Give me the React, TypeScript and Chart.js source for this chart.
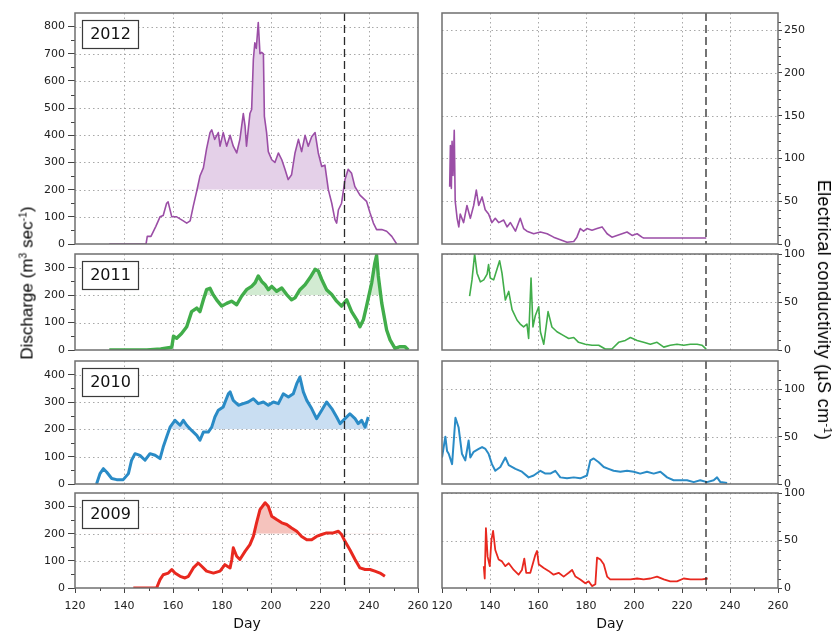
import React, { useEffect, useRef } from 'react';
import { Chart, registerables } from 'chart.js';

Chart.register(...registerables);

// ---------------- Data ----------------
// Discharge (m3 sec-1)
const q2012Days = [134, 149, 149.5, 151, 153, 154.7, 156, 157.4, 158, 159.5, 161.5, 164.2, 165.6, 167, 168.3, 169.7, 171, 172.4, 173.7, 175.1, 175.8, 177, 178.5, 179.2, 180.5, 181.9, 183.3, 184.6, 186, 187.3, 188.7, 189.4, 190, 190.7, 191.4, 192.1, 192.8, 193.4, 194, 194.8, 195.5, 196.2, 196.9, 197.3, 198.2, 198.9, 200.3, 201.6, 203, 204.4, 205.7, 207, 208.4, 209.8, 211.2, 212.5, 213.9, 215.2, 216.6, 218, 219.3, 220.7, 222, 223.4, 224.8, 226.1, 226.8, 227.5, 228.8, 230.2, 231.5, 232.9, 234.2, 236.3, 239, 240.4, 241.8, 243.1, 245.2, 247.2, 249.3, 251.3];
const q2012 = [0, 0, 28, 28, 65, 100, 105, 150, 155, 100, 100, 85, 77, 85, 140, 195, 250, 280, 350, 410, 420, 385, 410, 360, 410, 360, 400, 360, 335, 385, 480, 435, 360, 420, 480, 495, 680, 740, 720, 815, 700, 705, 700, 470, 410, 340, 310, 300, 335, 310, 275, 237, 255, 335, 385, 340, 400, 360, 395, 410, 335, 285, 290, 200, 150, 90, 77, 125, 150, 237, 275, 260, 212, 180, 157, 115, 77, 53, 53, 47, 28, 0];

const q2011Days = [134, 149.3, 155, 159.5, 160.2, 161.5, 163.5, 165.6, 167.6, 169.7, 171, 172.4, 173.7, 175.1, 176.5, 177.8, 179.9, 181.9, 183.9, 186, 188, 190, 192.1, 193.5, 194.8, 196.2, 197.6, 198.9, 200.3, 202.3, 204.4, 206.4, 208.4, 209.8, 211.8, 213.9, 215.9, 218, 219.3, 220.7, 222.7, 224.8, 226.8, 228.8, 230.9, 232.9, 235, 236.3, 237.7, 239, 241.1, 242.4, 243.1, 243.8, 245.2, 247.2, 248.6, 250.6, 252.7, 254.7, 256];
const q2011 = [0, 0, 4, 10, 50, 43, 60, 85, 140, 153, 140, 183, 220, 225, 200, 183, 160, 170, 178, 165, 196, 220, 232, 245, 270, 250, 238, 220, 232, 214, 226, 202, 183, 190, 220, 238, 263, 294, 288, 257, 220, 202, 178, 160, 183, 140, 110, 85, 110, 160, 245, 318, 345, 270, 171, 73, 37, 6, 12, 12, 0];

const q2010Days = [128.8, 130.2, 131.6, 132.9, 135, 137, 139.7, 141.8, 143.1, 144.5, 146.5, 148.6, 150.6, 152.7, 154.7, 156, 157.4, 158.8, 160.8, 162.9, 164.2, 165.6, 167.6, 169.7, 171, 172.4, 174.4, 175.8, 177.1, 178.5, 180.5, 182.6, 183.3, 184.6, 186.7, 188.7, 190.7, 192.8, 194.8, 196.9, 198.9, 201, 203, 205, 207.1, 209.1, 210.5, 211.8, 213.2, 214.6, 216.6, 218.6, 220.7, 222.7, 224.8, 226.8, 228.2, 230.2, 232.2, 234.3, 235.6, 237, 238.4, 239.7];
const q2010 = [0, 38, 56, 44, 20, 16, 16, 38, 87, 111, 105, 87, 111, 105, 93, 135, 172, 208, 233, 215, 233, 215, 196, 178, 160, 190, 190, 208, 245, 270, 282, 330, 337, 306, 288, 294, 300, 312, 294, 300, 288, 300, 294, 330, 318, 330, 367, 391, 337, 306, 276, 239, 270, 300, 276, 245, 221, 239, 257, 239, 221, 233, 208, 245];

const q2009Days = [143.8, 153.3, 154.7, 156, 158.1, 159.5, 160.8, 162.9, 164.9, 166.3, 168.3, 170.3, 171.7, 173.7, 176.5, 179.2, 181.2, 183.3, 184, 184.6, 186, 187.3, 189.4, 191.4, 192.8, 194.1, 195.5, 197.6, 198.9, 200.3, 202.3, 204.4, 206.4, 208.4, 210.5, 212.5, 214.6, 216.6, 218.6, 220.7, 222.7, 225.4, 227.5, 228.8, 230.2, 232.2, 234.3, 236.3, 238.4, 240.4, 242.4, 244.5, 246.5];
const q2009 = [0, 0, 31, 49, 55, 68, 55, 43, 37, 43, 74, 92, 80, 62, 55, 62, 86, 74, 105, 148, 117, 105, 135, 160, 190, 240, 289, 314, 301, 264, 252, 240, 234, 221, 209, 190, 178, 178, 190, 197, 203, 203, 209, 197, 172, 141, 105, 74, 68, 68, 62, 55, 43];

// Electrical conductivity (uS cm-1)
const ec2012Days = [123.2, 123.5, 123.9, 124.2, 124.6, 125.1, 125.5, 126.3, 127, 127.6, 129, 130.4, 131.8, 133.2, 134.3, 135.3, 136.7, 138, 139.4, 140.8, 142.2, 143.6, 145.7, 147.1, 148.5, 150.6, 152.6, 154, 155.4, 158.2, 161, 163.8, 166.5, 169.3, 172.1, 174.9, 176.2, 177.6, 179, 180.4, 182.5, 184.6, 186.7, 188.8, 190.8, 192.9, 195, 197.1, 199.2, 201.3, 203.3, 204, 230.1];
const ec2012 = [67, 115, 65, 120, 80, 133, 50, 30, 20, 35, 25, 45, 30, 45, 63, 45, 55, 40, 35, 25, 30, 25, 28, 20, 25, 15, 30, 18, 15, 12, 14, 12, 8, 5, 2, 3, 8, 18, 15, 18, 16, 18, 20, 12, 8, 10, 12, 14, 10, 12, 8, 7, 7];

const ec2011Days = [131.5, 132.5, 133.6, 134.6, 136, 137.4, 138.8, 139.4, 140.1, 141.5, 142.9, 144, 145, 146.4, 147.8, 149.2, 151.3, 152.6, 154, 155.4, 156.1, 157.1, 157.9, 158.9, 160.3, 161, 162.4, 163, 164.2, 165.8, 167.9, 170.7, 172.8, 174.9, 176.9, 179.7, 182.5, 185.3, 188, 190.8, 193.6, 196.4, 198.5, 201.3, 204, 206.8, 209.6, 212.4, 215.1, 217.9, 220.7, 223.5, 226.3, 228.3, 230.1];
const ec2011 = [56, 73, 100, 80, 71, 73, 79, 89, 75, 73, 84, 93, 80, 52, 61, 42, 31, 27, 24, 27, 12, 75, 24, 36, 45, 19, 6, 17, 40, 24, 19, 15, 12, 13, 8, 6, 5, 5, 1, 1, 8, 10, 13, 10, 8, 6, 8, 3, 5, 6, 5, 6, 6, 5, 1];

const ec2010Days = [120, 121.4, 122.1, 122.8, 124.2, 125.6, 126.9, 128.3, 129.7, 131.1, 131.8, 133.2, 135.3, 136.7, 138.1, 139.4, 140.8, 142.2, 144.3, 146.4, 147.8, 150.6, 153.3, 156.1, 158.2, 161, 163.1, 165.1, 167.2, 169.3, 172.1, 174.9, 177.6, 180.4, 181.8, 183.2, 185.3, 187.4, 189.4, 191.5, 194.3, 197.1, 199.9, 202.6, 205.4, 208.2, 211, 213.8, 216.5, 219.3, 222.1, 224.9, 227.6, 230.4, 233.2, 234.6, 236, 238.8];
const ec2010 = [28, 50, 35, 32, 21, 70, 60, 32, 25, 46, 28, 34, 37, 39, 37, 32, 21, 14, 18, 28, 20, 16, 13, 7, 9, 14, 11, 11, 14, 7, 6, 7, 6, 9, 25, 27, 23, 18, 16, 14, 13, 14, 13, 11, 13, 11, 13, 7, 4, 4, 4, 2, 4, 2, 4, 7, 2, 1];

const ec2009Days = [137.4, 137.8, 138.3, 139, 139.9, 140.6, 141.3, 142.2, 143.6, 145, 146.4, 147.8, 149.9, 151.9, 153.3, 154.3, 155.1, 156.8, 158.9, 159.6, 160.3, 162.4, 164.4, 166.5, 168.6, 170.7, 172.8, 174.2, 175.6, 177.6, 179.7, 181.1, 182.5, 183.9, 184.6, 186, 187.4, 188.8, 190.1, 192.9, 195.7, 198.5, 201.3, 204, 206.8, 209.6, 212.4, 215.1, 217.9, 220.7, 223.5, 226.3, 228.3, 230.7];
const ec2009 = [23, 10, 63, 33, 23, 51, 60, 40, 30, 28, 23, 26, 19, 14, 19, 31, 16, 16, 35, 39, 25, 21, 18, 14, 16, 12, 16, 19, 12, 9, 5, 7, 2, 4, 32, 30, 25, 12, 9, 9, 9, 9, 10, 9, 10, 12, 9, 7, 7, 10, 9, 9, 9, 10];

// Axis settings
const dayMin = 120;
const dayMax = 260;
const dayStep = 20;
const gridDays = [140, 160, 180, 200, 220, 240];
const markerDay = 230;
const fillThreshold = 200;
const years = ['2012', '2011', '2010', '2009'];

// ---------------- Layout ----------------
const W = 839;
const H = 632;
const ROWS: number[][] = [[13, 244], [254, 350], [361, 484], [493, 588]];
const LEFT_X = [75, 418];
const RIGHT_X = [442, 778];
const LEFT_CANVAS_W = 442;
const RIGHT_CANVAS_X = 418;
const PAD_V = 10;
const X_AXIS_H = 30;
const RIGHT_AXIS_W = 50;
const FONT_FAMILY = '"DejaVu Sans", "Liberation Sans", sans-serif';

type PanelCfg = {
  id: string;
  side: 'left' | 'right';
  row: number;
  days: number[];
  vals: number[];
  color: string;
  fillColor?: string;
  lineWidth: number;
  yMax: number;
  yStep: number;
  yLabelMax: number;
  yMinor: number;
  year?: string;
};

const PANELS: PanelCfg[] = [
  { id: 'q12', side: 'left', row: 0, days: q2012Days, vals: q2012, color: '#9b4ea6', fillColor: '#e4d0e8', lineWidth: 1.6, yMax: 850, yStep: 100, yLabelMax: 800, yMinor: 50, year: years[0] },
  { id: 'q11', side: 'left', row: 1, days: q2011Days, vals: q2011, color: '#41ad4a', fillColor: '#d2ebd2', lineWidth: 3.4, yMax: 350, yStep: 100, yLabelMax: 300, yMinor: 50, year: years[1] },
  { id: 'q10', side: 'left', row: 2, days: q2010Days, vals: q2010, color: '#2a8bc6', fillColor: '#c9def2', lineWidth: 3, yMax: 450, yStep: 100, yLabelMax: 400, yMinor: 50, year: years[2] },
  { id: 'q09', side: 'left', row: 3, days: q2009Days, vals: q2009, color: '#e8281f', fillColor: '#f5c3bd', lineWidth: 3, yMax: 350, yStep: 100, yLabelMax: 300, yMinor: 50, year: years[3] },
  { id: 'e12', side: 'right', row: 0, days: ec2012Days, vals: ec2012, color: '#9b4ea6', lineWidth: 1.6, yMax: 270, yStep: 50, yLabelMax: 250, yMinor: 10 },
  { id: 'e11', side: 'right', row: 1, days: ec2011Days, vals: ec2011, color: '#41ad4a', lineWidth: 1.6, yMax: 100, yStep: 50, yLabelMax: 100, yMinor: 10 },
  { id: 'e10', side: 'right', row: 2, days: ec2010Days, vals: ec2010, color: '#2a8bc6', lineWidth: 2, yMax: 130, yStep: 50, yLabelMax: 100, yMinor: 10 },
  { id: 'e09', side: 'right', row: 3, days: ec2009Days, vals: ec2009, color: '#e8281f', lineWidth: 1.8, yMax: 100, yStep: 50, yLabelMax: 100, yMinor: 10 },
];

function Panel({ cfg }: { cfg: PanelCfg }) {
  const ref = useRef<HTMLCanvasElement | null>(null);
  const [top, bottom] = ROWS[cfg.row];
  const isBottom = cfg.row === 3;
  const isLeft = cfg.side === 'left';
  const cLeft = isLeft ? 0 : RIGHT_CANVAS_X;
  const cWidth = isLeft ? LEFT_CANVAS_W : W - RIGHT_CANVAS_X;
  const cTop = top - PAD_V;
  const cHeight = bottom - top + PAD_V + (isBottom ? X_AXIS_H : PAD_V);

  useEffect(() => {
    const canvas = ref.current;
    if (!canvas) return;
    const n = Math.min(cfg.days.length, cfg.vals.length);
    const points = [] as { x: number; y: number }[];
    for (let i = 0; i < n; i++) points.push({ x: cfg.days[i], y: cfg.vals[i] });

    const padding = isLeft
      ? { left: 0, right: cWidth - (LEFT_X[1] - cLeft), top: PAD_V, bottom: isBottom ? 0 : PAD_V }
      : { left: RIGHT_X[0] - cLeft, right: cWidth - (RIGHT_X[1] - cLeft) - RIGHT_AXIS_W, top: PAD_V, bottom: isBottom ? 0 : PAD_V };

    const decor = {
      id: 'decor',
      beforeDatasetsDraw(chart: any) {
        const { ctx, chartArea: a, scales } = chart;
        const xs = scales.x;
        const ys = scales.y;
        ctx.save();
        ctx.strokeStyle = '#a8a8a8';
        ctx.lineWidth = 1;
        ctx.setLineDash([1.5, 3]);
        ctx.beginPath();
        for (const d of gridDays) {
          const px = Math.round(xs.getPixelForValue(d)) + 0.5;
          ctx.moveTo(px, a.top);
          ctx.lineTo(px, a.bottom);
        }
        for (let v = cfg.yStep; v <= cfg.yLabelMax; v += cfg.yStep) {
          const py = Math.round(ys.getPixelForValue(v)) + 0.5;
          ctx.moveTo(a.left, py);
          ctx.lineTo(a.right, py);
        }
        ctx.stroke();
        ctx.restore();
      },
      afterDatasetsDraw(chart: any) {
        const { ctx, chartArea: a, scales } = chart;
        const xs = scales.x;
        const ys = scales.y;
        ctx.save();
        // dashed marker
        const mx = xs.getPixelForValue(markerDay);
        ctx.strokeStyle = '#2a2a2a';
        ctx.lineWidth = 1.3;
        ctx.setLineDash([8, 4]);
        ctx.beginPath();
        ctx.moveTo(mx, a.top);
        ctx.lineTo(mx, a.bottom);
        ctx.stroke();
        ctx.setLineDash([]);
        // minor ticks
        ctx.strokeStyle = '#444';
        ctx.lineWidth = 1;
        ctx.beginPath();
        for (let v = cfg.yMinor; v < cfg.yMax; v += cfg.yMinor) {
          if (v % cfg.yStep === 0) continue;
          const py = Math.round(ys.getPixelForValue(v)) + 0.5;
          if (isLeft) {
            ctx.moveTo(a.left - 4, py);
            ctx.lineTo(a.left, py);
          } else {
            ctx.moveTo(a.right, py);
            ctx.lineTo(a.right + 3, py);
          }
        }
        if (isBottom) {
          for (let d = dayMin + dayStep / 2; d < dayMax; d += dayStep) {
            const px = Math.round(xs.getPixelForValue(d)) + 0.5;
            ctx.moveTo(px, a.bottom);
            ctx.lineTo(px, a.bottom + 3);
          }
        }
        ctx.stroke();
        // frame
        ctx.strokeStyle = '#6f6f6f';
        ctx.lineWidth = 1.5;
        ctx.strokeRect(a.left, a.top, a.right - a.left, a.bottom - a.top);
        // year box
        if (cfg.year) {
          const bx = a.left + 7;
          const by = a.top + 7;
          ctx.fillStyle = '#ffffff';
          ctx.fillRect(bx, by, 56, 28);
          ctx.strokeStyle = '#3a3a3a';
          ctx.lineWidth = 1.2;
          ctx.strokeRect(bx + 0.5, by + 0.5, 56, 28);
          ctx.fillStyle = '#111';
          ctx.font = '16px ' + FONT_FAMILY;
          ctx.textAlign = 'center';
          ctx.textBaseline = 'middle';
          ctx.fillText(cfg.year, bx + 28.5, by + 15);
        }
        ctx.restore();
      },
    };

    const chart = new Chart(canvas, {
      type: 'line',
      data: {
        datasets: [
          {
            data: points,
            borderColor: cfg.color,
            borderWidth: cfg.lineWidth,
            pointRadius: 0,
            tension: 0,
            borderJoinStyle: 'round',
            fill: cfg.fillColor
              ? { target: { value: fillThreshold }, above: cfg.fillColor, below: 'rgba(0,0,0,0)' }
              : false,
          } as any,
        ],
      },
      options: {
        responsive: false,
        animation: false,
        devicePixelRatio: 1,
        layout: { padding },
        plugins: { legend: { display: false }, tooltip: { enabled: false } },
        scales: {
          x: {
            type: 'linear',
            min: dayMin,
            max: dayMax,
            ticks: {
              stepSize: dayStep,
              display: isBottom,
              font: { family: FONT_FAMILY, size: 11 },
              color: '#222',
              padding: 7,
              maxRotation: 0,
              autoSkip: false,
            },
            grid: { drawOnChartArea: false, drawTicks: isBottom, tickLength: 5, tickColor: '#444', tickWidth: 1 },
            border: { display: false },
            afterFit: (scale: any) => {
              scale.height = isBottom ? X_AXIS_H : 0;
            },
          },
          y: {
            type: 'linear',
            position: isLeft ? 'left' : 'right',
            min: 0,
            max: cfg.yMax,
            ticks: {
              stepSize: cfg.yStep,
              font: { family: FONT_FAMILY, size: 11 },
              color: '#222',
              padding: isLeft ? 3 : 2,
            },
            grid: { drawOnChartArea: false, drawTicks: true, tickLength: isLeft ? 7 : 4, tickColor: '#444', tickWidth: 1 },
            border: { display: false },
            afterBuildTicks: (scale: any) => {
              scale.ticks = scale.ticks.filter(
                (t: any) => t.value % cfg.yStep === 0 && t.value <= cfg.yLabelMax
              );
            },
            afterFit: (scale: any) => {
              scale.width = isLeft ? LEFT_X[0] - cLeft : RIGHT_AXIS_W;
            },
          },
        },
      } as any,
      plugins: [decor],
    });
    return () => chart.destroy();
  }, []);

  return (
    <canvas
      ref={ref}
      width={cWidth}
      height={cHeight}
      style={{ position: 'absolute', left: cLeft, top: cTop, width: cWidth, height: cHeight }}
    />
  );
}

const supStyle: React.CSSProperties = { fontSize: '0.62em', position: 'relative', top: '-0.55em', verticalAlign: 'baseline' };

export default function App() {
  return (
    <div style={{ position: 'absolute', left: 0, top: 0, width: W, height: H, background: '#fff', overflow: 'hidden' }}>
      {PANELS.map((p) => (
        <Panel key={p.id} cfg={p} />
      ))}
      <div
        style={{
          position: 'absolute', left: 27, top: 283, transform: 'translate(-50%, -50%) rotate(-90deg)',
          whiteSpace: 'nowrap', font: '17px "Liberation Sans", Arial, sans-serif', color: '#000', lineHeight: 1,
        }}
      >
        Discharge (m<span style={supStyle}>3</span> sec<span style={supStyle}>-1</span>)
      </div>
      <div
        style={{
          position: 'absolute', left: 824, top: 310, transform: 'translate(-50%, -50%) rotate(90deg)',
          whiteSpace: 'nowrap', font: '18px "Liberation Sans", Arial, sans-serif', color: '#000', lineHeight: 1, letterSpacing: '0.3px',
        }}
      >
        Electrical conductivity (µS cm<span style={supStyle}>-1</span>)
      </div>
      <div style={{ position: 'absolute', left: 247, top: 623, transform: 'translate(-50%, -50%)', font: '14px ' + FONT_FAMILY, color: '#111', lineHeight: 1 }}>Day</div>
      <div style={{ position: 'absolute', left: 610, top: 623, transform: 'translate(-50%, -50%)', font: '14px ' + FONT_FAMILY, color: '#111', lineHeight: 1 }}>Day</div>
    </div>
  );
}
